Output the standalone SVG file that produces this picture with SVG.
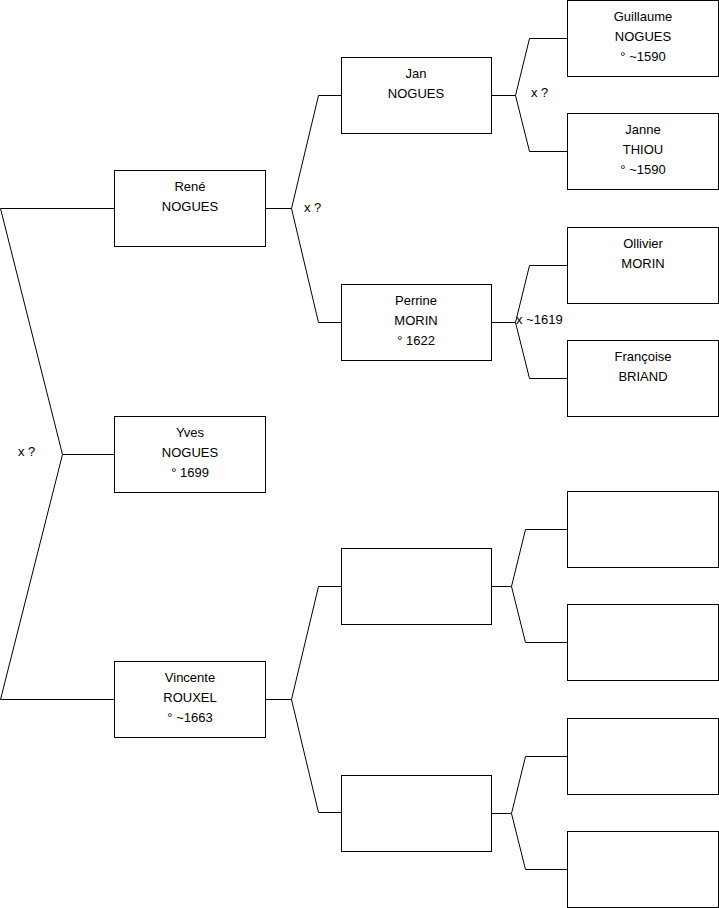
<svg xmlns="http://www.w3.org/2000/svg" width="719" height="908" viewBox="0 0 719 908">
<style>
.box{fill:#fff;stroke:#000;stroke-width:1}
.c{fill:none;stroke:#000;stroke-width:1}
text{font-family:"Liberation Sans",Arial,sans-serif;font-size:13px;fill:#000}
.m{text-anchor:middle}
</style>
<rect width="719" height="908" fill="#fff"/>
<g id="connectors">
<path class="c" d="M114.5,208.5 H0.5 L62.5,454.5 L0.5,699.5 H114.5 M62.5,454.5 H114.5"/>
<path class="c" d="M265.5,208.5 H291.5 L318.5,95.5 H341.5 M291.5,208.5 L318.5,322.5 H341.5"/>
<path class="c" d="M491.5,95.5 H515.5 L529.5,38.5 H567.5 M515.5,95.5 L529.5,151.5 H567.5"/>
<path class="c" d="M491.5,322.5 H515.5 L529.5,265.5 H567.5 M515.5,322.5 L529.5,378.5 H567.5"/>
<path class="c" d="M265.5,699.5 H291.5 L318.5,586.5 H341.5 M291.5,699.5 L318.5,812.5 H341.5"/>
<path class="c" d="M491.5,586.5 H511.5 L525.5,529.5 H567.5 M511.5,586.5 L525.5,642.5 H567.5"/>
<path class="c" d="M491.5,813.5 H511.5 L525.5,756.5 H567.5 M511.5,813.5 L525.5,869.5 H567.5"/>
<text x="18" y="456">x ?</text>
<text x="304" y="212">x ?</text>
<text x="531" y="97">x ?</text>
<text x="516" y="324">x ~1619</text>
</g>
<g id="rene"><rect class="box" x="114.5" y="170.5" width="151" height="76"/><text class="m" x="190" y="191">René</text><text class="m" x="190" y="211">NOGUES</text></g>
<g id="yves"><rect class="box" x="114.5" y="416.5" width="151" height="76"/><text class="m" x="190" y="437">Yves</text><text class="m" x="190" y="457">NOGUES</text><text class="m" x="190" y="477">° 1699</text></g>
<g id="vincente"><rect class="box" x="114.5" y="661.5" width="151" height="76"/><text class="m" x="190" y="682">Vincente</text><text class="m" x="190" y="702">ROUXEL</text><text class="m" x="190" y="722">° ~1663</text></g>
<g id="jan"><rect class="box" x="341.5" y="57.5" width="150" height="76"/><text class="m" x="416" y="78">Jan</text><text class="m" x="416" y="98">NOGUES</text></g>
<g id="perrine"><rect class="box" x="341.5" y="284.5" width="150" height="76"/><text class="m" x="416" y="305">Perrine</text><text class="m" x="416" y="325">MORIN</text><text class="m" x="416" y="345">° 1622</text></g>
<g id="empty1"><rect class="box" x="341.5" y="548.5" width="150" height="76"/></g>
<g id="empty2"><rect class="box" x="341.5" y="775.5" width="150" height="76"/></g>
<g id="guillaume"><rect class="box" x="567.5" y="0.5" width="151" height="76"/><text class="m" x="643" y="21">Guillaume</text><text class="m" x="643" y="41">NOGUES</text><text class="m" x="643" y="61">° ~1590</text></g>
<g id="janne"><rect class="box" x="567.5" y="113.5" width="151" height="76"/><text class="m" x="643" y="134">Janne</text><text class="m" x="643" y="154">THIOU</text><text class="m" x="643" y="174">° ~1590</text></g>
<g id="ollivier"><rect class="box" x="567.5" y="227.5" width="151" height="76"/><text class="m" x="643" y="248">Ollivier</text><text class="m" x="643" y="268">MORIN</text></g>
<g id="francoise"><rect class="box" x="567.5" y="340.5" width="151" height="76"/><text class="m" x="643" y="361">Françoise</text><text class="m" x="643" y="381">BRIAND</text></g>
<g id="empty3"><rect class="box" x="567.5" y="491.5" width="151" height="76"/></g>
<g id="empty4"><rect class="box" x="567.5" y="604.5" width="151" height="76"/></g>
<g id="empty5"><rect class="box" x="567.5" y="718.5" width="151" height="76"/></g>
<g id="empty6"><rect class="box" x="567.5" y="831.5" width="151" height="76"/></g>
</svg>
